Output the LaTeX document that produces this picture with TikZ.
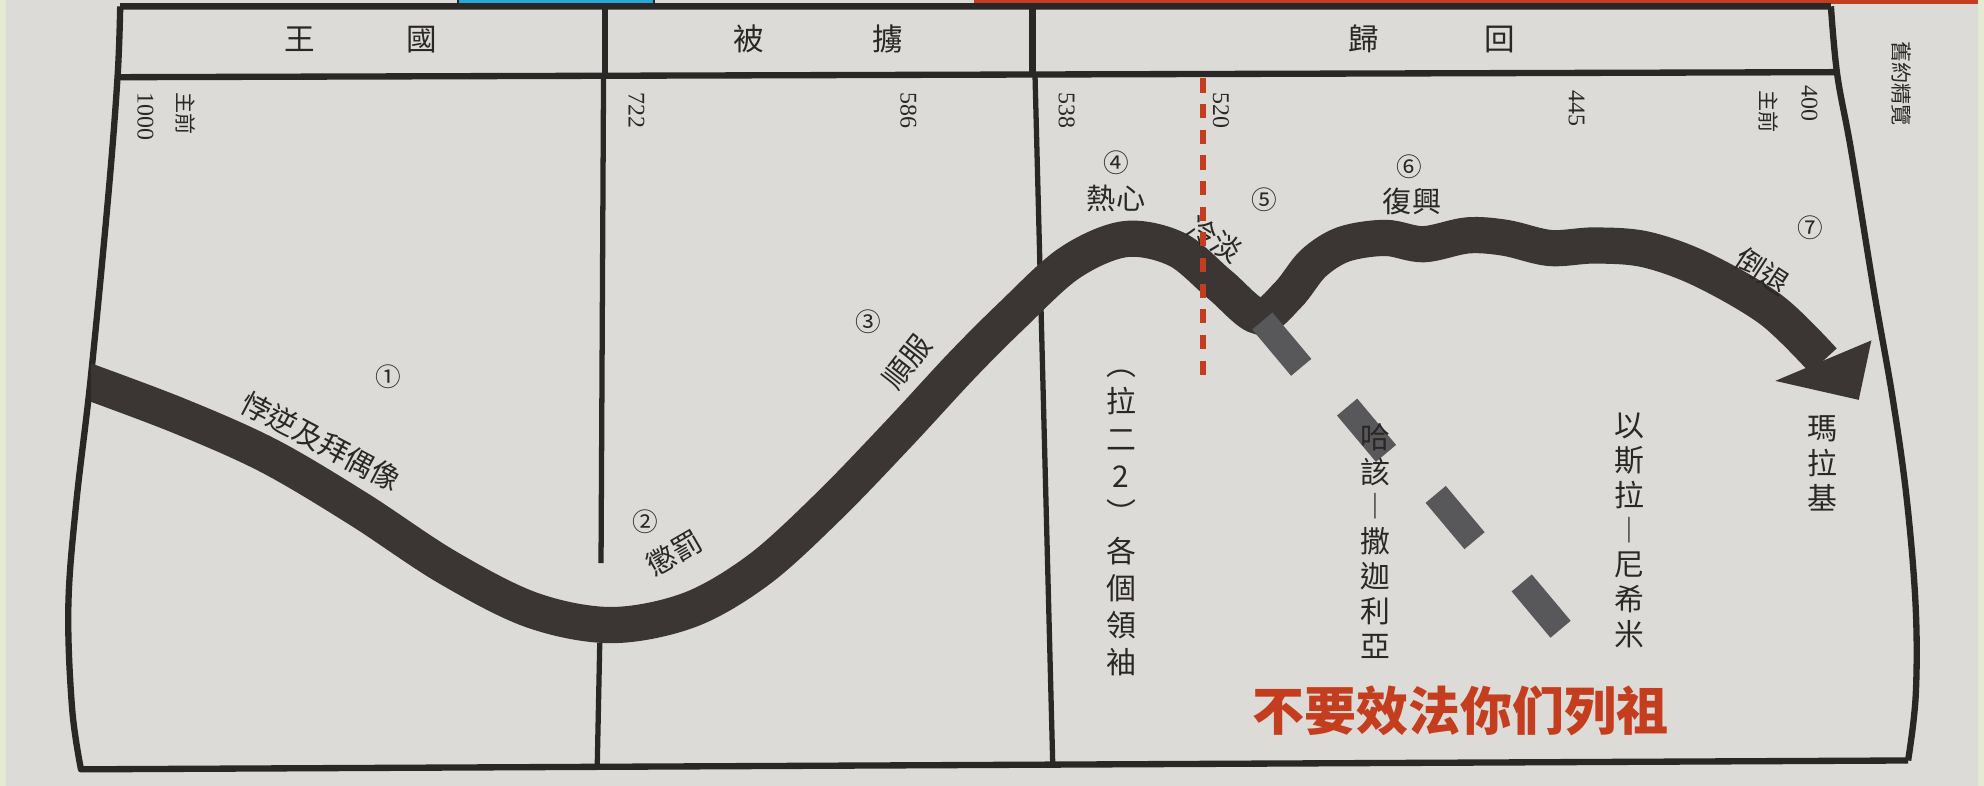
\documentclass[tikz,border=0pt]{standalone}
\usepackage{fontspec}
\newfontfamily\cjk{Noto Sans CJK TC}
\newfontfamily\cjksc{Noto Sans CJK SC}
\newfontfamily\yrfont{Liberation Serif}
\usetikzlibrary{positioning,calc}
\definecolor{paperc}{HTML}{DDDBD7}
\definecolor{inkc}{HTML}{2A2727}
\definecolor{bandc}{HTML}{3B3634}
\definecolor{blkc}{HTML}{58585A}
\definecolor{redc}{HTML}{C43D1E}
\definecolor{greenc}{HTML}{E3EBD3}
\definecolor{bluec}{HTML}{29A6D8}
\tikzset{font=\small}
\tikzset{
	frame/.style={draw=inkc, line width=1.8pt, line join=round},
	divline/.style={draw=inkc, line width=1.5pt},
	band/.style={draw=bandc, line width=10.3pt},
	hdr/.style={font=\cjk\fontsize{8.7}{10}\selectfont, text=inkc, inner sep=0pt},
	yr/.style={font=\yrfont\fontsize{6.8}{7}\selectfont, rotate=-90, text=inkc, inner sep=0pt},
	zq/.style={font=\cjk\fontsize{6}{7}\selectfont, rotate=-90, text=inkc, inner sep=0pt},
	circ/.style={font=\cjk\fontsize{7.3}{8}\selectfont, text=inkc, inner sep=0pt},
	lbl/.style={font=\cjk\fontsize{8.3}{9}\selectfont, text=inkc, inner sep=0pt},
	vcol/.style={font=\cjk\fontsize{8.5}{9.9}\selectfont, text=inkc, align=center, anchor=north, inner sep=0pt},
	blk/.style={fill=blkc, minimum width=17.2pt, minimum height=7.5pt, inner sep=0pt, rotate=-50},
	warn/.style={font=\cjksc\bfseries\fontsize{14.8}{16}\selectfont, text=redc, inner sep=0pt}
}

\begin{document}
\begin{tikzpicture}[x=0.12653mm, y=-0.12653mm]
	\useasboundingbox (0,0) rectangle (1568,621);
	\fill[paperc] (0,0) rectangle (1568,621);
	\fill[greenc] (0,0) rectangle (5,621);
	\fill[greenc] (1563,0) rectangle (1568,621);
	\filldraw[fill=bluec, draw=inkc, line width=0.5pt] (362,-2) rectangle (517,4);
	\fill[redc] (770,-2) rectangle (1563,3);

	\draw[frame] (1447,5) -- (95,5) plot[smooth, tension=0.6] coordinates {(95,5) (93,59) (86,150) (72,296) (60,400) (54,480) (57,560) (64,608)} -- (1508,601);
	\draw[frame] plot[smooth, tension=0.6] coordinates {(1447,5) (1452,59) (1463,119) (1481,230) (1496,316) (1507,395) (1514,480) (1514,550) (1508,601)};
	\draw[frame] (93,61) -- (1452,57);
	\draw[frame] (478,5) -- (478,60);
	\draw[frame] (816,5) -- (816,59);
	\draw[divline] (477,60) -- (475,445);
	\draw[divline] (474,508) -- (472,606);
	\draw[divline] (818,60) -- (832,604);

	\node[hdr] (wang) at (237,31) {王};
	\node[hdr] (guo) at (333,31) {國};
	\node[hdr] (bei) at (592,31) {被};
	\node[hdr] (lu) at (702,31) {擄};
	\node[hdr] (gui) at (1078,31) {歸};
	\node[hdr] (hui) at (1185,31) {回};
	\node[zq] (jingl) at (1503,66) {舊約精覽};

	\node[yr] (y1000) at (115,92) {1000};
	\node[zq] (zqa) at (147,90) {主前};
	\node[yr] (y722) at (503,87) {722};
	\node[yr] (y586) at (718,87) {586};
	\node[yr] (y538) at (843,87) {538};
	\node[yr] (y520) at (965,87) {520};
	\node[yr] (y445) at (1246,86) {445};
	\node[yr] (y400) at (1430,82) {400};
	\node[zq] (zqb) at (1398,88) {主前};

	\begin{scope}
		\clip (72,0) rectangle (1568,621);
		\draw[band] plot[smooth, tension=0.55] coordinates {(60,298) (140,328) (212,360) (283,402) (353,448) (420,482) (483,494) (545,482) (600,450) (655,400) (710,343) (760,289) (800,249) (845,208) (889,189) (930,197) (964,225) (995,250) (1018,233) (1038,208) (1062,193) (1095,188) (1125,193) (1160,186) (1190,188) (1225,196) (1260,194) (1300,197) (1345,213) (1400,245) (1441,285)};
	\end{scope}
	\fill[bandc] (1403,301) -- (1479,269) -- (1469,316) -- cycle;

	\node[blk] (b1) at (1013,272) {};
	\node[blk] (b2) at (1080,340) {};
	\node[blk] (b3) at (1150,409) {};
	\node[blk] (b4) at (1218,479) {};

	\node[circ] (c1) at (307,298) {①};
	\node[lbl, rotate=-28] (l1) at (254,349) {悖逆及拜偶像};
	\node[circ] (c2) at (510,412) {②};
	\node[lbl, rotate=30] (l2) at (533,437) {懲罰};
	\node[circ] (c3) at (686,254) {③};
	\node[lbl, rotate=52] (l3) at (717,286) {順服};
	\node[circ] (c4) at (882,129) {④};
	\node[lbl] (l4) at (882,157) {熱心};
	\node[circ] (c5) at (999,158) {⑤};
	\node[lbl, rotate=-32] (l5) at (960,189) {冷淡};
	\node[circ] (c6) at (1114,132) {⑥};
	\node[lbl] (l6) at (1116,159) {復興};
	\node[circ] (c7) at (1431,180) {⑦};
	\node[lbl, rotate=-33] (l7) at (1393,214) {倒退};

	\node[vcol, font=\cjk\fontsize{8.5}{10.6}\selectfont] (lingxiu) at (886,292) {︵\\拉\\二\\2\\︶\\各\\個\\領\\袖};
	\node[vcol] (hagai) at (1087,334) {哈\\該\\︱\\撒\\迦\\利\\亞};
	\node[vcol] (ezra) at (1288,326) {以\\斯\\拉\\︱\\尼\\希\\米};
	\node[vcol] (malachi) at (1440,328) {瑪\\拉\\基};

	\draw[redc, line width=1.8pt, dash pattern=on 4pt off 3.3pt] (951,62) -- (951,303);

	\node[warn] (quote) at (1154,562) {不要效法你们列祖};
\end{tikzpicture}
\end{document}
